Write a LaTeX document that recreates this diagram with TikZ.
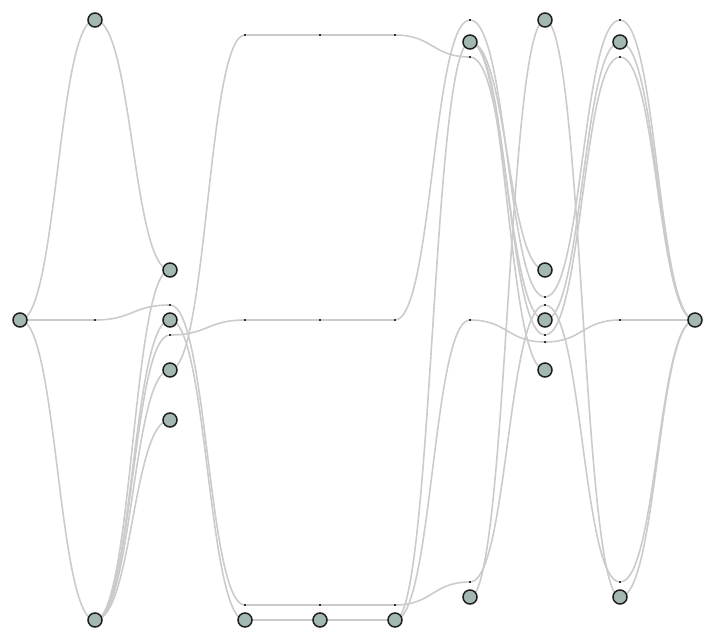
\documentclass[tikz,border=0pt]{standalone}
\usetikzlibrary{backgrounds}
\definecolor{nodefill}{HTML}{A3B8B3}
\definecolor{nodeline}{HTML}{1E1E1E}
\definecolor{edgecol}{HTML}{CBCBCB}
\definecolor{dumcol}{HTML}{333333}
\tikzset{
  vert/.style={circle,draw=nodeline,fill=nodefill,line width=1.5pt,minimum size=14pt,inner sep=0pt},
  dum/.style={rectangle,fill=dumcol,minimum width=2pt,minimum height=1.6pt,inner sep=0pt},
  edge/.style={draw=edgecol,line width=1.6pt}
}
\newcommand\lk[2]{\draw[edge] (#1.center) .. controls +(37.5,0) and +(-37.5,0) .. (#2.center);}
\begin{document}
\begin{tikzpicture}[x=1pt,y=-1pt]
\useasboundingbox (0,0) rectangle (715,640);
% nodes
\node[vert] (n0) at (20,320) {};
\node[vert] (n1) at (95,20) {};
\node[vert] (n2) at (95,620) {};
\node[vert] (n3) at (170,270) {};
\node[vert] (n4) at (170,320) {};
\node[vert] (n5) at (170,370) {};
\node[vert] (n6) at (170,420) {};
\node[vert] (n7) at (245,620) {};
\node[vert] (n8) at (320,620) {};
\node[vert] (n9) at (395,620) {};
\node[vert] (n10) at (470,42) {};
\node[vert] (n11) at (470,597) {};
\node[vert] (n12) at (545,20) {};
\node[vert] (n13) at (545,270) {};
\node[vert] (n14) at (545,320) {};
\node[vert] (n15) at (545,370) {};
\node[vert] (n16) at (620,42) {};
\node[vert] (n17) at (620,597) {};
\node[vert] (n18) at (695,320) {};
% dummy points
\node[dum] (a1) at (95,320) {};
\node[dum] (a2) at (170,305) {};
\node[dum] (a3) at (170,335) {};
\node[dum] (b1) at (245,35) {};
\node[dum] (b2) at (245,320) {};
\node[dum] (b3) at (245,605) {};
\node[dum] (c1) at (320,35) {};
\node[dum] (c2) at (320,320) {};
\node[dum] (c3) at (320,605) {};
\node[dum] (e1) at (395,35) {};
\node[dum] (e2) at (395,320) {};
\node[dum] (e3) at (395,605) {};
\node[dum] (f1) at (470,20) {};
\node[dum] (f2) at (470,57) {};
\node[dum] (f3) at (470,320) {};
\node[dum] (f4) at (470,582) {};
\node[dum] (g1) at (545,297) {};
\node[dum] (g2) at (545,305) {};
\node[dum] (g3) at (545,335) {};
\node[dum] (g4) at (545,342) {};
\node[dum] (h1) at (620,20) {};
\node[dum] (h2) at (620,57) {};
\node[dum] (h3) at (620,320) {};
\node[dum] (h4) at (620,582) {};
\begin{scope}[on background layer]
\lk{n0}{n1}\lk{n0}{n2}\lk{n0}{a1}
\lk{n1}{n3}\lk{a1}{a2}\lk{n2}{n3}\lk{n2}{n4}\lk{n2}{a3}\lk{n2}{n5}\lk{n2}{n6}
\lk{a2}{b3}\lk{n4}{n7}\lk{a3}{b2}\lk{n5}{b1}
\lk{b1}{c1}\lk{b2}{c2}\lk{b3}{c3}\lk{n7}{n8}
\lk{c1}{e1}\lk{c2}{e2}\lk{c3}{e3}\lk{n8}{n9}
\lk{e1}{f2}\lk{e2}{f1}\lk{e3}{f4}\lk{n9}{n10}\lk{n9}{f3}
\lk{f1}{g1}\lk{n10}{n13}\lk{n10}{n15}\lk{n10}{g3}\lk{f2}{n14}\lk{f3}{g4}\lk{f4}{g2}\lk{n11}{n12}
\lk{g1}{h1}\lk{g2}{h4}\lk{n14}{n16}\lk{g3}{h2}\lk{g4}{h3}\lk{n12}{n17}
\lk{h1}{n18}\lk{n16}{n18}\lk{h2}{n18}\lk{h3}{n18}\lk{h4}{n18}\lk{n17}{n18}
\end{scope}
\end{tikzpicture}
\end{document}
